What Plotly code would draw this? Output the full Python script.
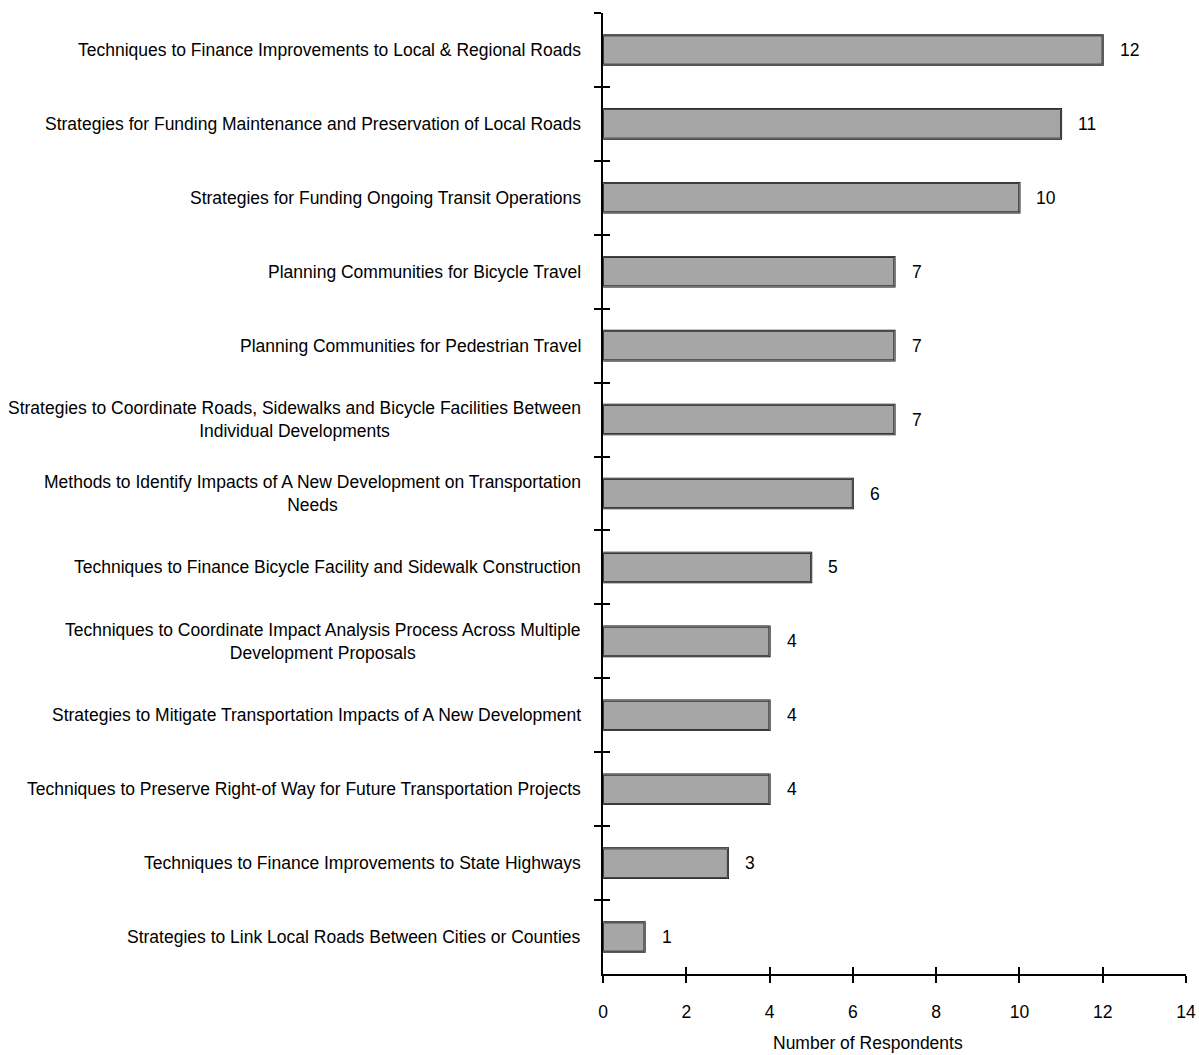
import plotly.graph_objects as go

# Training topics of interest, top to bottom
topics = [
    "Techniques to Finance Improvements to Local & Regional Roads",
    "Strategies for Funding Maintenance and Preservation of Local Roads",
    "Strategies for Funding Ongoing Transit Operations",
    "Planning Communities for Bicycle Travel",
    "Planning Communities for Pedestrian Travel",
    "Strategies to Coordinate Roads, Sidewalks and Bicycle Facilities Between<br>Individual Developments",
    "Methods to Identify Impacts of A New Development on Transportation<br>Needs",
    "Techniques to Finance Bicycle Facility and Sidewalk Construction",
    "Techniques to Coordinate Impact Analysis Process Across Multiple<br>Development Proposals",
    "Strategies to Mitigate Transportation Impacts of A New Development",
    "Techniques to Preserve Right-of Way for Future Transportation Projects",
    "Techniques to Finance Improvements to State Highways",
    "Strategies to Link Local Roads Between Cities or Counties",
]
respondents = [12, 11, 10, 7, 7, 7, 6, 5, 4, 4, 4, 3, 1]

x_tick_values = [0, 2, 4, 6, 8, 10, 12, 14]
x_axis_title = "Number of Respondents"

FONT = "Liberation Sans Narrow, Arial Narrow, Liberation Sans, Arial, sans-serif"
FS = 17.5
n = len(topics)

fig = go.Figure()
fig.add_trace(go.Bar(
    x=respondents, y=topics, orientation="h", width=0.4,
    marker=dict(color="#A6A6A6", line=dict(color="black", width=2)),
    hoverinfo="skip", showlegend=False,
))
# transparent copy on the overlay axes so their inner tick marks are drawn
fig.add_trace(go.Bar(
    x=respondents, y=topics, orientation="h", width=0.4,
    xaxis="x2", yaxis="y2", marker=dict(color="rgba(0,0,0,0)"),
    hoverinfo="skip", showlegend=False,
))

# category labels, centred per line and right-aligned to the axis
for t in topics:
    fig.add_annotation(
        x=0, xref="paper", y=t, yref="y", xanchor="right", xshift=-20,
        text=t, align="center", showarrow=False,
        font=dict(family=FONT, size=FS, color="black"),
    )
# value labels beyond each bar end
for t, v in zip(topics, respondents):
    fig.add_annotation(
        x=v, y=t, xanchor="left", xshift=15, text=str(v),
        showarrow=False, font=dict(family=FONT, size=FS, color="black"),
    )
fig.add_annotation(
    x=0.455, xref="paper", y=-0.072, yref="paper", yanchor="middle",
    text=x_axis_title, showarrow=False,
    font=dict(family=FONT, size=FS, color="black"),
)

common_x = dict(range=[0, 14], tickvals=x_tick_values, ticklen=7,
                tickwidth=2, tickcolor="black", showgrid=False, zeroline=False,
                automargin=False)
common_y = dict(categoryorder="array", categoryarray=topics,
                range=[n - 0.5, -0.5], tickson="boundaries", ticklen=7,
                tickwidth=2, tickcolor="black", showgrid=False, zeroline=False,
                automargin=False)

fig.update_layout(
    width=1199, height=1055,
    margin=dict(l=603, r=13, t=13, b=81, autoexpand=False),
    plot_bgcolor="white", paper_bgcolor="white",
    font=dict(family=FONT, size=FS, color="black"),
    bargap=0.6,
    xaxis=dict(**common_x, ticks="outside", showline=True, linecolor="black",
               linewidth=2, ticklabelstandoff=14,
               tickfont=dict(family=FONT, size=FS, color="black")),
    yaxis=dict(**common_y, ticks="outside", showline=True, linecolor="black",
               linewidth=2, showticklabels=False),
    xaxis2=dict(**common_x, ticks="inside", overlaying="x", anchor="y2",
                side="bottom", showline=False, showticklabels=False),
    yaxis2=dict(**common_y, ticks="inside", overlaying="y", anchor="x2",
                side="left", showline=False, showticklabels=False),
)

fig.write_html("out.html")
